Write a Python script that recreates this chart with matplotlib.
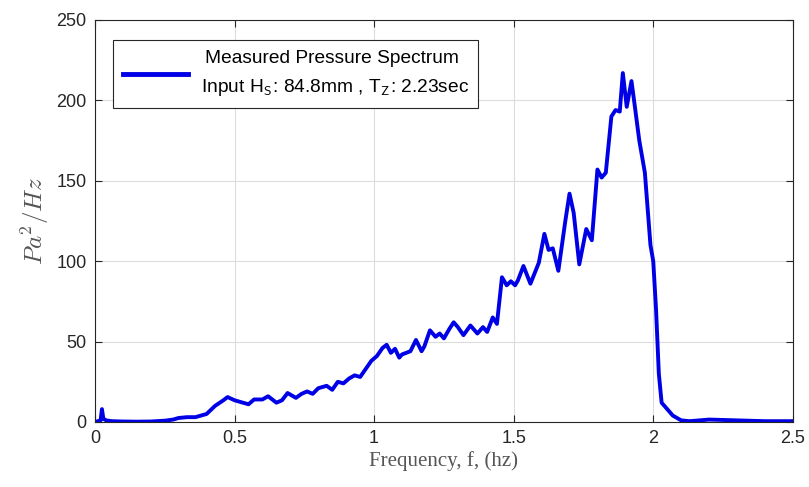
import matplotlib.pyplot as plt

plt.rcParams['mathtext.fontset'] = 'cm'

freq = [0.0, 0.01, 0.02, 0.025, 0.03, 0.04, 0.06, 0.1, 0.15, 0.2, 0.25, 0.28, 0.3, 0.33,
        0.36, 0.4, 0.43, 0.46, 0.475, 0.5, 0.53, 0.55, 0.57, 0.6, 0.62, 0.65, 0.67,
        0.69, 0.72, 0.74, 0.76, 0.78, 0.8, 0.83, 0.85, 0.87, 0.89, 0.91, 0.93, 0.95,
        0.97, 0.99, 1.01, 1.03, 1.045, 1.06, 1.075, 1.09, 1.1, 1.115, 1.13, 1.15,
        1.17, 1.18, 1.2, 1.22, 1.235, 1.25, 1.27, 1.285, 1.3, 1.32, 1.345, 1.37,
        1.39, 1.405, 1.425, 1.44, 1.458, 1.475, 1.49, 1.505, 1.515, 1.535, 1.56,
        1.59, 1.61, 1.625, 1.64, 1.66, 1.685, 1.70, 1.715, 1.735, 1.76, 1.78,
        1.80, 1.815, 1.83, 1.85, 1.865, 1.88, 1.891, 1.905, 1.922, 1.935, 1.95,
        1.97, 1.99, 2.0, 2.01, 2.02, 2.03, 2.05, 2.07, 2.1, 2.13, 2.2, 2.3, 2.4, 2.5]
psd = [0.0, 0.5, 1.0, 8.0, 2.0, 1.0, 0.5, 0.3, 0.2, 0.3, 0.8, 1.5, 2.5, 3.0,
       3.0, 5.0, 10.0, 13.5, 15.5, 13.5, 12.0, 11.0, 14.0, 14.0, 16.0, 12.0, 13.5,
       18.0, 15.0, 17.5, 19.0, 17.5, 21.0, 22.5, 20.0, 25.0, 24.0, 27.0, 29.0, 28.0,
       33.0, 38.0, 41.0, 46.0, 48.0, 43.0, 45.5, 40.0, 42.0, 43.0, 44.0, 51.0,
       44.0, 47.0, 57.0, 53.0, 55.0, 52.0, 58.0, 62.0, 59.0, 54.0, 60.0, 55.0,
       59.0, 56.0, 65.0, 61.0, 90.0, 85.0, 87.5, 85.0, 88.0, 97.0, 86.0,
       99.0, 117.0, 107.0, 108.0, 94.0, 125.0, 142.0, 130.0, 98.0, 120.0, 113.0,
       157.0, 152.0, 155.0, 190.0, 194.0, 193.0, 217.0, 196.0, 212.0, 195.0, 175.0,
       155.0, 110.0, 100.0, 70.0, 30.0, 12.0, 8.0, 4.0, 1.0, 0.5, 1.5, 1.0, 0.5, 0.5]

xticks = [0, 0.5, 1, 1.5, 2, 2.5]
xticklabels = ['0', '0.5', '1', '1.5', '2', '2.5']
yticks = [0, 50, 100, 150, 200, 250]

fig = plt.figure(figsize=(8.09, 4.87), dpi=100)
ax = fig.add_axes([0.1174, 0.1335, 0.8626, 0.8255])

ax.plot(freq, psd, color='#0000e6', linewidth=2.8, solid_joinstyle='round',
        label='Measured Pressure Spectrum\n Input H$_\\mathsf{S}$: 84.8mm , T$_\\mathsf{Z}$: 2.23sec')

ax.set_xlim(0, 2.5)
ax.set_ylim(0, 250)
ax.set_xticks(xticks)
ax.set_xticklabels(xticklabels)
ax.set_yticks(yticks)
ax.grid(True, color='#dcdcdc', linewidth=0.8)
ax.tick_params(direction='in', top=True, right=True, length=5, width=0.8,
               colors='#262626', labelsize=13, pad=6)
for lbl in ax.get_xticklabels() + ax.get_yticklabels():
    lbl.set_family('Liberation Sans')
for s in ax.spines.values():
    s.set_color('#262626')
    s.set_linewidth(0.8)

ax.set_xlabel('Frequency, f, (hz)', family='Liberation Serif', fontsize=15,
              color='#555555', labelpad=3)
ax.set_ylabel('$Pa^2/Hz$', fontsize=18, color='#555555', labelpad=4)

leg = ax.legend(loc='upper left', bbox_to_anchor=(0.026, 0.95), borderaxespad=0,
                fancybox=False, edgecolor='#262626', framealpha=1, handlelength=3.4,
                prop={'family': 'Liberation Sans', 'size': 13.8},
                borderpad=0.5, handletextpad=0.4)
leg.get_frame().set_linewidth(0.8)
for t in leg.get_texts():
    t.set_multialignment('center')
    t.set_linespacing(1.7)
for h in leg.get_lines():
    h.set_linewidth(3.5)

fig.savefig('out.png', dpi=100)
